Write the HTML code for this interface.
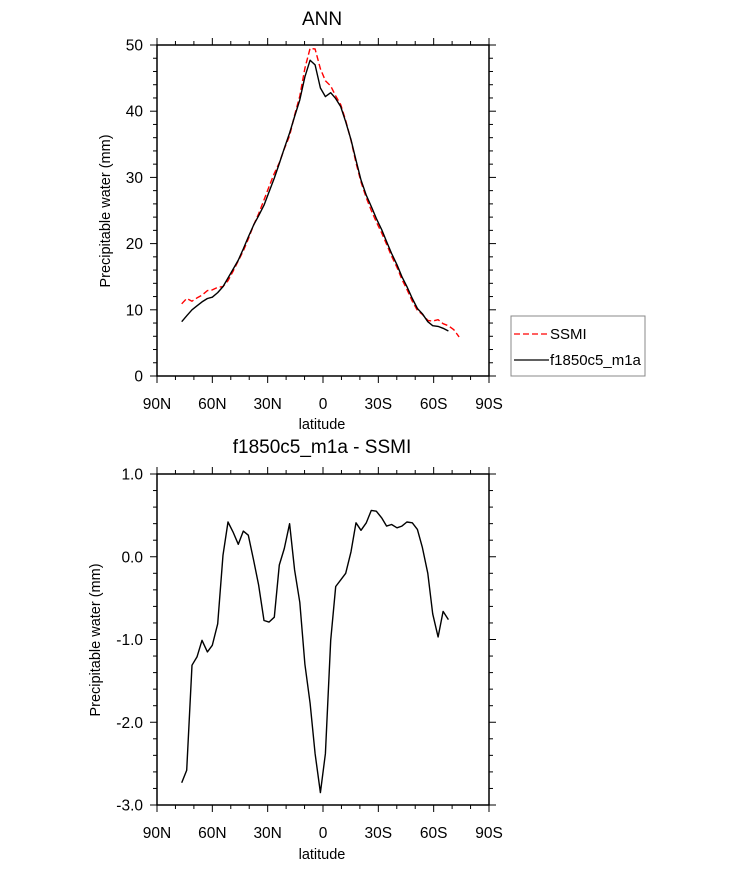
<!DOCTYPE html>
<html><head><meta charset="utf-8"><style>
body{margin:0;background:#fff;}
svg{display:block;font-family:"Liberation Sans",Helvetica,Arial,sans-serif;}
</style></head><body>
<svg id="chart" width="733" height="869" viewBox="0 0 733 869" xmlns="http://www.w3.org/2000/svg">
<text x="322" y="25" font-size="19" text-anchor="middle">ANN</text>
<text x="322" y="453" font-size="19" text-anchor="middle">f1850c5_m1a - SSMI</text>
<text x="322" y="429" font-size="14.5" text-anchor="middle">latitude</text>
<text x="322" y="859" font-size="14.5" text-anchor="middle">latitude</text>
<text transform="translate(110,211) rotate(-90)" font-size="14.5" text-anchor="middle">Precipitable water (mm)</text>
<text transform="translate(100,640) rotate(-90)" font-size="14.5" text-anchor="middle">Precipitable water (mm)</text>
<g>
<rect x="511" y="316" width="134" height="60" fill="#fff" stroke="#888" stroke-width="1"/>
<line x1="514" y1="334" x2="549" y2="334" stroke="#f00" stroke-width="1.3" stroke-dasharray="6,3"/>
<text x="550" y="339" font-size="15">SSMI</text>
<line x1="514" y1="360" x2="549" y2="360" stroke="#000" stroke-width="1.3"/>
<text x="550" y="365" font-size="15">f1850c5_m1a</text>
</g>
<g id="plots"></g>
</svg>
<script>
const lats = [76.6,73.9,71.0,68.3,65.6,62.7,60.0,57.1,54.2,51.5,48.8,45.9,43.2,40.5,37.6,34.9,32.0,29.3,26.4,23.7,21.0,18.1,15.4,12.6,9.8,7.0,4.3,1.4,-1.3,-4.2,-6.9,-9.6,-12.3,-15.2,-17.9,-20.6,-23.5,-26.2,-28.9,-31.8,-34.5,-37.2,-40.1,-42.8,-45.5,-48.4,-51.2,-53.9,-56.8,-59.5,-62.4,-65.1,-68.0];
const modelVals = [8.2,9.1,10.0,10.6,11.2,11.7,11.9,12.6,13.5,14.8,16.1,17.5,19.2,21.0,22.8,24.2,25.8,27.8,29.9,32.1,34.4,36.7,39.2,41.7,45.2,47.7,47.0,43.5,42.2,42.8,41.9,40.7,38.4,35.7,32.6,29.6,27.3,25.6,23.8,22.1,20.3,18.5,16.8,15.0,13.5,11.7,10.2,9.4,8.2,7.6,7.5,7.2,6.8];
const ssmiLats = [76.6,73.9,71.0,68.3,65.6,62.7,60.0,57.1,54.2,51.5,48.8,45.9,43.2,40.5,37.6,34.9,32.0,29.3,26.4,23.7,21.0,18.1,15.4,12.6,9.8,7.0,4.3,1.4,-1.3,-4.2,-6.9,-9.6,-12.3,-15.2,-17.9,-20.6,-23.5,-26.2,-28.9,-31.8,-34.5,-37.2,-40.1,-42.8,-45.5,-48.4,-51.2,-53.9,-56.8,-59.5,-62.4,-65.1,-68.0,-70.9,-73.8];
const ssmiVals = [10.9,11.7,11.3,11.8,12.2,12.9,13.0,13.4,13.5,14.4,15.8,17.4,18.9,20.7,22.8,24.5,26.6,28.6,30.6,32.2,34.3,36.3,39.4,42.3,46.5,49.5,49.4,46.4,44.6,43.8,42.3,41.0,38.6,35.6,32.2,29.3,26.9,25.0,23.3,21.6,19.9,18.1,16.4,14.6,13.1,11.3,9.9,9.3,8.4,8.3,8.5,7.9,7.6,7.0,5.9];
const diffVals = [-2.73,-2.58,-1.31,-1.21,-1.01,-1.15,-1.07,-0.81,0.02,0.42,0.30,0.15,0.31,0.26,-0.04,-0.34,-0.77,-0.79,-0.73,-0.10,0.10,0.40,-0.16,-0.55,-1.30,-1.77,-2.38,-2.85,-2.38,-1.01,-0.36,-0.28,-0.20,0.06,0.41,0.32,0.41,0.56,0.55,0.47,0.37,0.39,0.35,0.37,0.42,0.41,0.33,0.11,-0.20,-0.69,-0.97,-0.66,-0.76];
const xTickVals = [90,60,30,0,-30,-60,-90];
const xTickLabels = ["90N","60N","30N","0","30S","60S","90S"];
const topYTicks = [0,10,20,30,40,50];
const botYTicks = [-3,-2,-1,0,1];
const botYLabels = ["-3.0","-2.0","-1.0","0.0","1.0"];

const NS="http://www.w3.org/2000/svg";
const g=document.getElementById('plots');
const X0=157, X1=489;
const xs = lat => X0 + (90-lat)/180*(X1-X0);
function mk(tag, attrs, parent){const e=document.createElementNS(NS,tag);for(const k in attrs)e.setAttribute(k,attrs[k]);(parent||g).appendChild(e);return e;}

function panel(name, top, bot, ymin, ymax, yTicks, yLabels, minorStep){
  const ys = v => bot - (v-ymin)/(ymax-ymin)*(bot-top);
  const grp = mk('g',{});
  
  
  for(let l=90;l>=-90;l-=10){
    const major = l%30===0;
    const L = major?7:4;
    const x=xs(l);
    const t1=mk('line',{x1:x,y1:bot,x2:x,y2:bot+L,stroke:'#000','stroke-width':1},grp);
    
    
    const t2=mk('line',{x1:x,y1:top,x2:x,y2:top-L,stroke:'#000','stroke-width':1},grp);
    
    
  }
  for(let v=ymin; v<=ymax+1e-9; v+=minorStep){
    const vv=Math.round(v*1000)/1000;
    const major = yTicks.some(t=>Math.abs(t-vv)<1e-6);
    const L=major?7:4; const y=ys(vv);
    const t1=mk('line',{x1:X0,y1:y,x2:X0-L,y2:y,stroke:'#000','stroke-width':1},grp);
    
    
    const t2=mk('line',{x1:X1,y1:y,x2:X1+L,y2:y,stroke:'#000','stroke-width':1},grp);
    
    
  }
  const fr=mk('rect',{x:X0,y:top,width:X1-X0,height:bot-top,fill:'none',stroke:'#000','stroke-width':1.5},grp);
  
  
  xTickVals.forEach((l,i)=>{
    const t=mk('text',{x:xs(l),y:bot+33,'font-size':15.5,'text-anchor':'middle'},grp);
    t.textContent=xTickLabels[i];
    
    
  });
  yTicks.forEach((v,i)=>{
    const t=mk('text',{x:X0-14,y:ys(v)+5.5,'font-size':15.5,'text-anchor':'end'},grp);
    t.textContent=yLabels[i];
    
    
  });
  return ys;
}
function path(xarr, yarr, ys, color, dash, name){
  const d=xarr.map((l,i)=>(i?'L':'M')+xs(l).toFixed(1)+','+ys(yarr[i]).toFixed(1)).join(' ');
  const p=mk('path',{d:d,fill:'none',stroke:color,'stroke-width':1.4,'stroke-linejoin':'round'});
  if(dash)p.setAttribute('stroke-dasharray',dash);
  
  
}
const ysTop = panel('top',45,376,0,50,topYTicks,topYTicks.map(String),2);
path(ssmiLats, ssmiVals, ysTop, '#f00', '6,3', 'ssmi-line');
path(lats, modelVals, ysTop, '#000', null, 'model-line');
const ysBot = panel('bottom',474,805,-3,1,botYTicks,botYLabels,0.2);
path(lats, diffVals, ysBot, '#000', null, 'difference-line');
</script>
</body></html>
